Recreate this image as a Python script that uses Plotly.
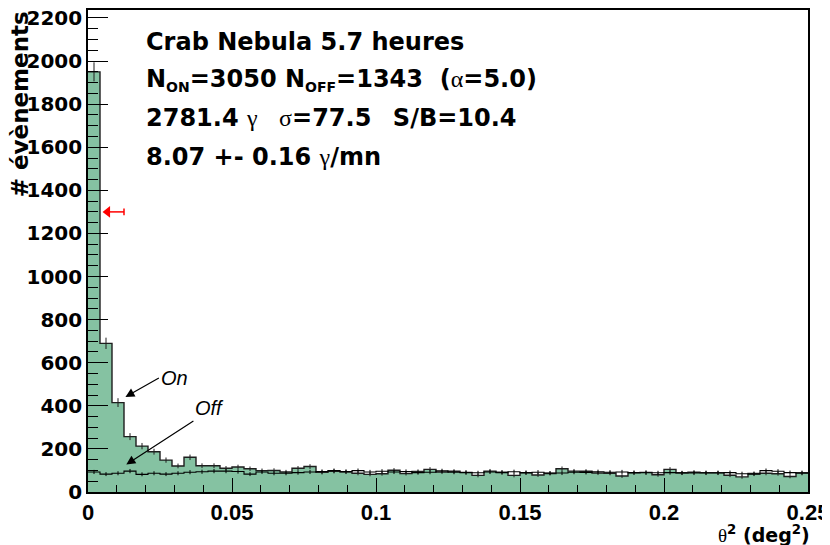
import numpy as np
import plotly.graph_objects as go

# ---------------- data ----------------
theta2_min = 0.0
theta2_max = 0.25
n_bins = 60

on_counts = [1950, 690, 415, 257, 213, 187, 148, 121, 161, 122,
             122, 110, 116, 108, 99, 100, 93, 110, 118, 91,
             96, 93, 87, 82, 85, 101, 86, 95, 105, 93,
             96, 91, 77, 97, 92, 77, 89, 79, 86, 108,
             97, 96, 88, 87, 74, 89, 91, 80, 105, 89,
             92, 90, 90, 78, 70, 86, 87, 85, 72, 90]

off_counts = [93, 83, 87, 97, 82, 87, 83, 87, 92, 94,
              97, 97, 95, 83, 93, 87, 87, 90, 93, 95,
              99, 95, 99, 93, 96, 93, 95, 90, 92, 98,
              92, 90, 89, 93, 90, 94, 90, 92, 88, 88,
              92, 91, 94, 92, 93, 90, 89, 89, 90, 88,
              88, 88, 88, 90, 85, 83, 99, 96, 90, 87]

x_tick_vals = [0, 0.05, 0.1, 0.15, 0.2, 0.25]
x_tick_text = ["0", "0.05", "0.1", "0.15", "0.2", "0.25"]
y_tick_vals = [0, 200, 400, 600, 800, 1000, 1200, 1400, 1600, 1800, 2000, 2200]
y_tick_text = [str(v) for v in y_tick_vals]

# cut marker (red arrow)
cut_theta2 = 0.0125
cut_arrow_head = 0.0068
cut_level = 1300
# "On" / "Off" label arrows: head point and tail point (text starts at the tail)
on_head, on_tail = (0.0130, 441), (0.0246, 529)
off_head, off_tail = (0.0133, 128), (0.0366, 329)

SERIF = "<span style=\"font-family:Liberation Serif;font-weight:normal\">{}</span>"
SUB = "<sub><span style=\"font-size:14px\">{}</span></sub>"
SP3 = "\u00a0\u00a0\u2009"
info_lines = [
    "Crab Nebula 5.7 heures",
    "N" + SUB.format("ON") + "=3050 N" + SUB.format("OFF") + "=1343\u00a0\u00a0(" + SERIF.format("α") + "=5.0)",
    "2781.4 " + SERIF.format("γ") + SP3 + SERIF.format("σ") + "=77.5" + SP3 + "S/B=10.4",
    "8.07 +- 0.16 " + SERIF.format("γ") + "/mn",
]

# ---------------- figure ----------------
edges = np.linspace(theta2_min, theta2_max, n_bins + 1)
centers = 0.5 * (edges[:-1] + edges[1:])
on_arr = np.array(on_counts, dtype=float)
off_arr = np.array(off_counts, dtype=float)

green = "rgb(133,194,162)"
fig = go.Figure()

fig.add_trace(go.Scatter(
    x=edges, y=np.append(on_arr, on_arr[-1]),
    mode="lines", line=dict(shape="hv", color="#1e1e1e", width=1.4),
    fill="tozeroy", fillcolor=green, hoverinfo="skip", showlegend=False))

fig.add_trace(go.Scatter(
    x=centers, y=on_arr, mode="markers",
    marker=dict(size=2, color="rgba(0,0,0,0)"),
    error_y=dict(type="data", array=np.sqrt(on_arr), width=0, thickness=1, color="#1e1e1e"),
    showlegend=False, hoverinfo="skip"))

fig.add_trace(go.Scatter(
    x=edges, y=np.append(off_arr, off_arr[-1]),
    mode="lines", line=dict(shape="hv", color="black", width=1.1),
    hoverinfo="skip", showlegend=False))

fig.add_trace(go.Scatter(
    x=centers, y=off_arr, mode="markers",
    marker=dict(size=2, color="rgba(0,0,0,0)"),
    error_y=dict(type="data", array=np.sqrt(off_arr), width=0, thickness=1, color="black"),
    showlegend=False, hoverinfo="skip"))

# red cut arrow: shaft + head
fig.add_trace(go.Scatter(
    x=[cut_arrow_head, cut_theta2], y=[cut_level, cut_level], mode="lines",
    line=dict(color="red", width=1.5), hoverinfo="skip", showlegend=False))
fig.add_trace(go.Scatter(
    x=[cut_arrow_head], y=[cut_level], mode="markers",
    marker=dict(symbol="triangle-left", size=10, color="red", line=dict(width=0)),
    hoverinfo="skip", showlegend=False))

y_tick_font = dict(family="DejaVu Sans", size=20, color="black", weight="bold")
x_tick_font = dict(family="Liberation Sans", size=22, color="black", weight="bold")

fig.update_xaxes(
    range=[theta2_min, theta2_max], tickmode="array", tickvals=x_tick_vals, ticktext=x_tick_text,
    ticks="inside", ticklen=14, tickwidth=1, tickcolor="black",
    showline=True, linecolor="black", linewidth=1.6, mirror=True, automargin=False,
    showgrid=False, zeroline=False, tickfont=x_tick_font, ticklabeloverflow="allow",
    minor=dict(ticks="inside", ticklen=7, dtick=0.01, tick0=0, tickwidth=1, tickcolor="black", showgrid=False),
    layer="above traces")
fig.update_yaxes(
    range=[0, 2237], tickmode="array", tickvals=y_tick_vals, ticktext=y_tick_text,
    ticks="inside", ticklen=20, tickwidth=1, tickcolor="black",
    showline=True, linecolor="black", linewidth=1.6, mirror=True, automargin=False,
    showgrid=False, zeroline=False, tickfont=y_tick_font, ticklabeloverflow="allow",
    minor=dict(ticks="inside", ticklen=10, dtick=50, tick0=0, tickwidth=1, tickcolor="black", showgrid=False),
    layer="above traces")

annotations = []
info_y = [0.934, 0.855, 0.776, 0.695]
for txt, yy in zip(info_lines, info_y):
    annotations.append(dict(
        text=txt, x=0.078, y=yy, xref="paper", yref="paper",
        xanchor="left", yanchor="middle", showarrow=False,
        font=dict(family="DejaVu Sans", size=24, color="black", weight="bold")))

annotations.append(dict(
    text="# évènements", x=-0.094, y=1.0, xref="paper", yref="paper",
    xanchor="center", yanchor="top", textangle=-90, showarrow=False, borderpad=0,
    font=dict(family="DejaVu Sans", size=23, color="black", weight="bold")))
annotations.append(dict(
    text=SERIF.format("θ") + "<sup>2</sup> (deg<sup>2</sup>)",
    x=1.004, y=-0.088, xref="paper", yref="paper",
    xanchor="right", yanchor="middle", showarrow=False, borderpad=0,
    font=dict(family="DejaVu Sans", size=19, color="black", weight="bold")))

label_font = dict(family="Liberation Sans", size=20, color="black", style="italic")
annotations.append(dict(
    text="On", x=on_head[0], y=on_head[1], ax=on_tail[0], ay=on_tail[1],
    xref="x", yref="y", axref="x", ayref="y", xanchor="left", yanchor="middle",
    showarrow=True, arrowhead=2, arrowsize=1.5, arrowwidth=1.2, arrowcolor="black",
    font=label_font))
annotations.append(dict(
    text="Off", x=off_head[0], y=off_head[1], ax=off_tail[0], ay=off_tail[1],
    xref="x", yref="y", axref="x", ayref="y", xanchor="left", yanchor="bottom",
    showarrow=True, arrowhead=2, arrowsize=1.5, arrowwidth=1.2, arrowcolor="black",
    font=label_font))

shapes = [dict(type="line", xref="x", yref="y",
               x0=cut_theta2, x1=cut_theta2, y0=cut_level - 16, y1=cut_level + 16,
               line=dict(color="red", width=1.5))]

# page body has an 8px margin: figure drawn 8px right/down, so size/margins compensate
fig.update_layout(
    width=822, height=537, autosize=False,
    margin=dict(l=80, r=22, t=2, b=53),
    plot_bgcolor="white", paper_bgcolor="white",
    annotations=annotations, shapes=shapes, showlegend=False)

fig.write_html("out.html")
